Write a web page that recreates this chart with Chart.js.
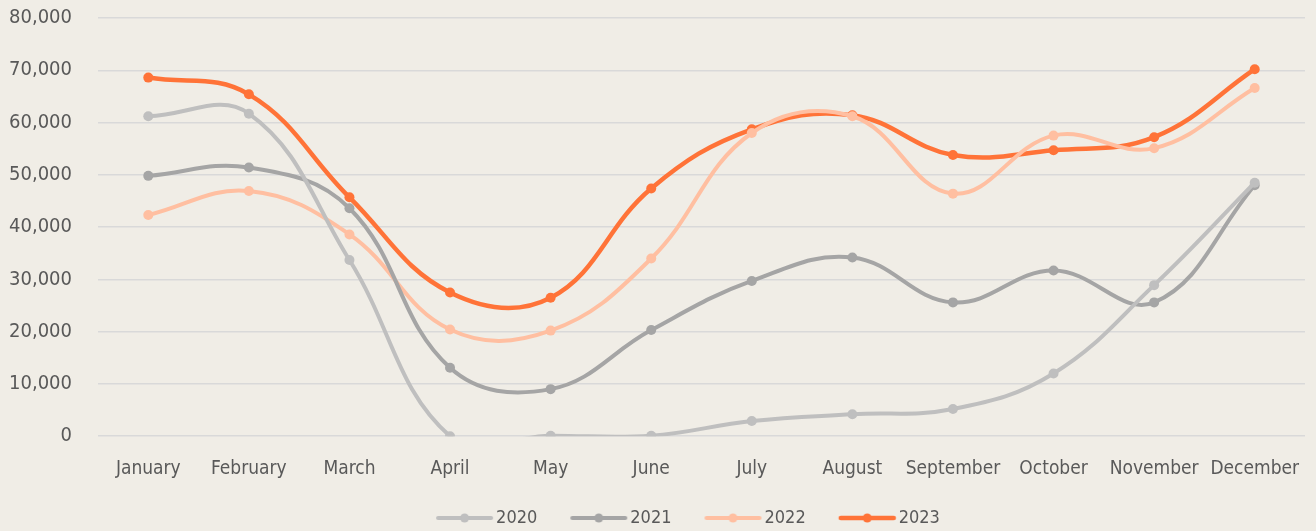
<!DOCTYPE html>
<html>
<head>
<meta charset="utf-8">
<script src="https://cdn.jsdelivr.net/npm/chart.js@4"></script>
<style>
  html, body { margin: 0; padding: 0; background: #F0EDE6; }
  #wrap { width: 1316px; height: 531px; }
</style>
</head>
<body>
<div id="wrap"><canvas id="salesChart"></canvas></div>
<script>
    // Chart data
    const months = ['January', 'February', 'March', 'April', 'May', 'June',
        'July', 'August', 'September', 'October', 'November', 'December'];
    const yTicks = [0, 10000, 20000, 30000, 40000, 50000, 60000, 70000, 80000];
    const seriesNames = ['2020', '2021', '2022', '2023'];
    const values2020 = [61200, 61700, 33700, 0, 100, 100, 2900, 4200, 5200, 12000, 28900, 48500];
    const values2021 = [49800, 51400, 43600, 13100, 9000, 20300, 29700, 34200, 25600, 31700, 25600, 48000];
    const values2022 = [42300, 46900, 38600, 20400, 20200, 34000, 58000, 61200, 46400, 57500, 55100, 66600];
    const values2023 = [68600, 65400, 45700, 27500, 26500, 47400, 58700, 61400, 53800, 54700, 57200, 70200];

    const colors = ['#BFBFBF', '#A5A5A5', '#FFBFA1', '#FF7338'];
    const fontFamily = '"DejaVu Sans Condensed", "Liberation Sans Narrow", Roboto, sans-serif';

    /**
     * Legend marker: short line with a dot, drawn in the right part of a wider image
     */
    function legendMarker(color, width) {
        const c = document.createElement('canvas');
        c.width = 80;
        c.height = 12;
        const ctx = c.getContext('2d');
        ctx.strokeStyle = color;
        ctx.lineWidth = width;
        ctx.lineCap = 'round';
        ctx.beginPath();
        ctx.moveTo(24, 6);
        ctx.lineTo(77, 6);
        ctx.stroke();
        ctx.fillStyle = color;
        ctx.beginPath();
        ctx.arc(50.5, 6, 4.5, 0, Math.PI * 2);
        ctx.fill();
        return c;
    }

    // Nudge the legend to where the original sits (a bit right of centre)
    const legendShift = {
        id: 'legendShift',
        afterLayout: function(chart) {
            if (!chart.legend) return;
            chart.legend.left += 26;
            chart.legend.right += 26;
            chart.legend.top -= 2;
            chart.legend.bottom -= 2;
        }
    };

    const allValues = [values2020, values2021, values2022, values2023];
    const widths = [4, 4, 4, 4.5];

    const datasets = seriesNames.map(function(name, i) {
        return {
            label: name,
            data: allValues[i],
            borderColor: colors[i],
            backgroundColor: colors[i],
            borderWidth: widths[i],
            pointRadius: 5,
            pointHoverRadius: 5,
            pointBorderWidth: 0,
            pointStyle: 'circle',
            tension: 0.4,
            legendMarker: legendMarker(colors[i], widths[i])
        };
    });

    const ctx = document.getElementById('salesChart').getContext('2d');

    new Chart(ctx, {
        type: 'line',
        data: {
            labels: months,
            datasets: datasets
        },
        plugins: [legendShift],
        options: {
            responsive: true,
            maintainAspectRatio: false,
            animation: false,
            layout: {
                padding: { top: 18, right: 11, left: 4, bottom: -8 }
            },
            elements: {
                line: { capBezierPoints: false }
            },
            scales: {
                x: {
                    offset: true,
                    grid: { display: false },
                    border: { display: false },
                    ticks: {
                        color: '#595959',
                        padding: 13,
                        maxRotation: 0,
                        font: { family: fontFamily, size: 19 }
                    },
                    afterFit: function(axis) {
                        axis.paddingLeft = 0;
                        axis.paddingRight = 0;
                    }
                },
                y: {
                    min: 0,
                    max: 80000,
                    afterBuildTicks: function(axis) {
                        axis.ticks = yTicks.map(function(v) { return { value: v }; });
                    },
                    afterFit: function(axis) {
                        axis.width = 94;
                        axis.paddingTop = 0;
                        axis.paddingBottom = 0;
                    },
                    grid: {
                        color: '#D9D9D9',
                        lineWidth: 1.5,
                        drawTicks: false
                    },
                    border: { display: false },
                    ticks: {
                        color: '#595959',
                        padding: 26,
                        font: { family: fontFamily, size: 20 },
                        callback: function(value) {
                            return value.toLocaleString('en-US');
                        }
                    }
                }
            },
            plugins: {
                legend: {
                    position: 'bottom',
                    labels: {
                        usePointStyle: true,
                        pointStyleWidth: 66,
                        boxHeight: 12,
                        padding: 18,
                        color: '#595959',
                        font: { family: fontFamily, size: 18 },
                        generateLabels: function(chart) {
                            return chart.data.datasets.map(function(ds, i) {
                                return {
                                    text: ds.label,
                                    pointStyle: ds.legendMarker,
                                    fillStyle: ds.borderColor,
                                    strokeStyle: ds.borderColor,
                                    lineWidth: 0,
                                    fontColor: '#595959',
                                    hidden: false,
                                    datasetIndex: i
                                };
                            });
                        }
                    }
                },
                tooltip: { enabled: false }
            }
        }
    });
</script>
</body>
</html>
